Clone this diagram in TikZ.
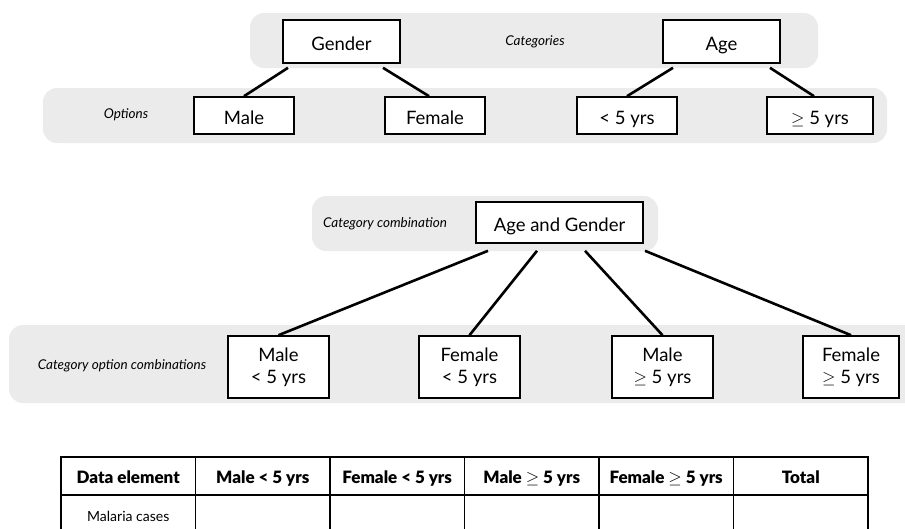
\documentclass[tikz,border=0pt]{standalone}
\usepackage{fontspec}
\setmainfont{Lato}
\newfontfamily\heavyfont{Lato Black}
\usetikzlibrary{positioning}

\tikzset{
    band/.style={fill=black!8, rounded corners=14pt},
    box/.style={draw, line width=1.6pt, fill=white, inner sep=0pt, align=center,
        font=\fontsize{18.5}{21.6}\selectfont},
    oneline/.style={text height=18pt, text depth=0pt},
    lbl/.style={font=\fontsize{13.5}{16}\selectfont\itshape},
    link/.style={line width=2.6pt},
    cell/.style={draw, line width=1.8pt, minimum width=134.5pt, minimum height=38pt,
        inner sep=0pt, text height=15pt, text depth=0pt, font=\fontsize{17}{19}\heavyfont},
}

\begin{document}
\begin{tikzpicture}[x=1pt,y=-1pt]
    \clip (0,0) rectangle (905,528);

    % grey bands
    \fill[band] (250,13) rectangle (818,68);
    \fill[band] (43,88) rectangle (887,143);
    \fill[band] (312,196) rectangle (658,251);
    \fill[band] (9,325) rectangle (940,403);

    \node[lbl] (catlbl) at (535,42) {Categories};
    \node[lbl] (optlbl) at (126,115) {Options};
    \node[lbl] (combolbl) at (385,224) {Category combination};
    \node[lbl] (coclbl) at (122,366) {Category option combinations};

    % categories and options
    \node[box, oneline, minimum width=117pt, minimum height=43pt] (gender) at (341.5,41.5) {Gender};
    \node[box, oneline, minimum width=117pt, minimum height=43pt] (age) at (721.5,41.5) {Age};
    \node[box, oneline, minimum width=100pt, minimum height=37pt] (male) at (244,115.5) {Male};
    \node[box, oneline, minimum width=100pt, minimum height=37pt] (female) at (435,115.5) {Female};
    \node[box, oneline, minimum width=100pt, minimum height=37pt] (young) at (627,115.5) {< 5 yrs};
    \node[box, oneline, minimum width=106pt, minimum height=37pt] (old) at (820,115.5) {$\geq$ 5 yrs};

    \draw[link]
        ([shift={(-53.5,4)}]gender.south) -- (male.north)
        ([shift={(41.5,4)}]gender.south) -- ([xshift=-6pt]female.north)
        ([shift={(-48.5,4)}]age.south) -- (young.north)
        ([shift={(48.5,4)}]age.south) -- ([xshift=-6pt]old.north);

    % category combination
    \node[box, oneline, minimum width=167pt, minimum height=41pt] (ageandgender) at (559.5,222.5) {Age and Gender};
    \node[box, minimum width=101pt, minimum height=62pt] (maleyoung) at (278.5,367) {Male\\< 5 yrs};
    \node[box, minimum width=101pt, minimum height=62pt] (femaleyoung) at (469.5,367) {Female\\< 5 yrs};
    \node[box, minimum width=101pt, minimum height=62pt] (maleold) at (662.5,367) {Male\\$\geq$ 5 yrs};
    \node[box, minimum width=96pt, minimum height=62pt] (femaleold) at (851,367) {Female\\$\geq$ 5 yrs};

    \draw[link]
        ([shift={(-71.5,7)}]ageandgender.south) -- (maleyoung.north)
        ([shift={(-22.5,7)}]ageandgender.south) -- (femaleyoung.north)
        ([shift={(25.5,7)}]ageandgender.south) -- (maleold.north)
        ([shift={(85.5,7)}]ageandgender.south) -- (femaleold.north);

    % data entry table
    \foreach \txt [count=\i] in {Data element, Male < 5 yrs, Female < 5 yrs,
            Male $\geq$ 5 yrs, Female $\geq$ 5 yrs, Total}
        \node[cell] (head\i) at ({61+134.5*(\i-0.5)},476) {\txt};
    \node[cell, font=\fontsize{14}{16}\selectfont] (row1) at (128.25,514) {Malaria cases};
    \foreach \i in {2,...,6}
        \node[cell] (row\i) at ({61+134.5*(\i-0.5)},514) {};
\end{tikzpicture}
\end{document}
